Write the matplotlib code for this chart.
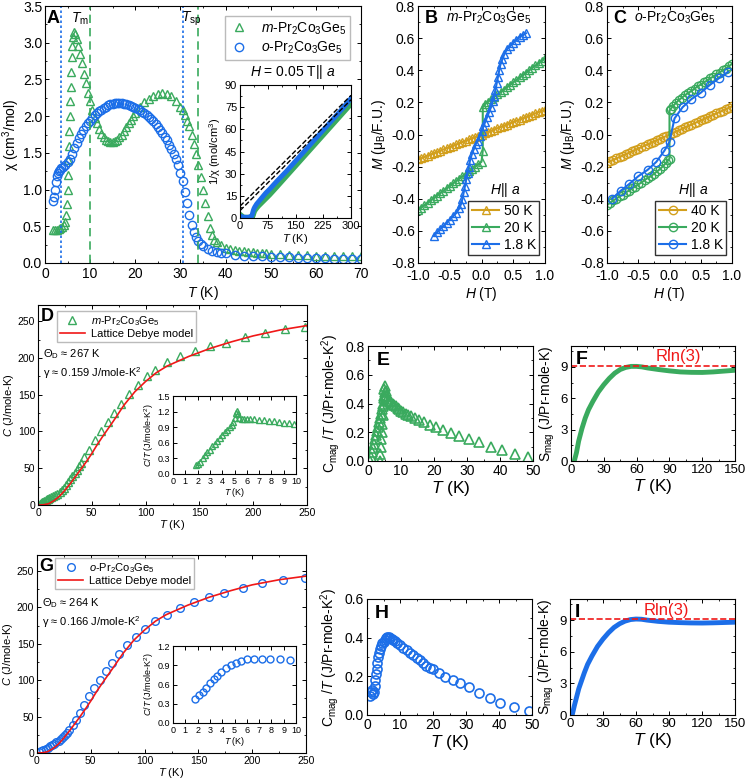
import numpy as np
import matplotlib
matplotlib.use('Agg')
import matplotlib.pyplot as plt
from matplotlib.ticker import AutoMinorLocator, FormatStrFormatter

plt.rcParams['font.family'] = ['Liberation Sans', 'DejaVu Sans']
plt.rcParams['mathtext.fontset'] = 'custom'
plt.rcParams['mathtext.rm'] = 'Liberation Sans'
plt.rcParams['mathtext.it'] = 'Liberation Sans:italic'
plt.rcParams['mathtext.bf'] = 'Liberation Sans:bold'
plt.rcParams['xtick.direction'] = 'in'
plt.rcParams['ytick.direction'] = 'in'
plt.rcParams['xtick.top'] = True
plt.rcParams['ytick.right'] = True
plt.rcParams['axes.linewidth'] = 0.8

GREEN = '#3aaa5e'
BLUE = '#1c6ee8'
GOLD = '#d29f1c'
RED = '#f01818'

M_LABEL = r'$\it{m}$-Pr$_2$Co$_3$Ge$_5$'
O_LABEL = r'$\it{o}$-Pr$_2$Co$_3$Ge$_5$'

# ---- panel A: chi(T) ----
tA_m = [1.8, 2.2, 2.6, 3.0, 3.4, 3.8, 4.2, 4.5, 4.7, 4.85, 5.0, 5.1, 5.2, 5.3, 5.4, 5.5, 5.6, 5.7, 5.8, 5.9,
        6.0, 6.2, 6.4, 6.7, 7.0, 7.4, 7.8, 8.2, 8.6, 9.0, 9.5, 10.0, 10.5, 11.0, 11.5, 12.0, 12.5, 13.0, 13.5,
        14.0, 14.5, 15.0, 15.5, 16.0, 16.5, 17.0, 17.5, 18.0, 18.5, 19.0, 19.5, 20.0, 21.0, 22.0, 23.0, 24.0,
        25.0, 26.0, 27.0, 28.0, 29.0, 30.0, 30.5, 31.0, 31.5, 32.0, 32.5, 33.0, 33.5, 34.0, 34.5, 35.0, 35.5,
        36.0, 36.5, 37.0, 37.5, 38.0, 39, 40, 41, 42, 43, 44, 45, 46, 47, 48, 49, 50, 52, 54, 56, 58, 60, 62,
        64, 66, 68, 70]
chiA_m = [0.45, 0.45, 0.45, 0.46, 0.47, 0.49, 0.52, 0.56, 0.65, 0.80, 1.00, 1.20, 1.40, 1.60, 1.80, 2.00,
          2.20, 2.40, 2.60, 2.80, 2.95, 3.08, 3.15, 3.12, 3.05, 2.95, 2.85, 2.72, 2.58, 2.45, 2.32, 2.20, 2.08,
          1.98, 1.90, 1.82, 1.76, 1.71, 1.68, 1.66, 1.65, 1.65, 1.66, 1.68, 1.71, 1.75, 1.80, 1.85, 1.90, 1.95,
          2.00, 2.04, 2.12, 2.19, 2.24, 2.28, 2.30, 2.31, 2.30, 2.27, 2.21, 2.13, 2.08, 2.02, 1.94, 1.86, 1.75,
          1.62, 1.48, 1.33, 1.17, 1.00, 0.82, 0.64, 0.48, 0.38, 0.32, 0.28, 0.24, 0.21, 0.19, 0.18, 0.17, 0.16,
          0.15, 0.145, 0.14, 0.135, 0.13, 0.125, 0.12, 0.115, 0.11, 0.105, 0.10, 0.098, 0.095, 0.093, 0.091, 0.09]
tA_o = [1.8, 2.0, 2.2, 2.4, 2.6, 2.8, 3.0, 3.3, 3.6, 4.0, 4.5, 5.0, 5.5, 6.0, 6.5, 7.0, 7.5, 8.0, 8.5, 9.0,
        9.5, 10.0, 10.5, 11.0, 11.5, 12.0, 12.5, 13.0, 13.5, 14.0, 14.5, 15.0, 15.5, 16.0, 16.5, 17.0, 17.5,
        18.0, 18.5, 19.0, 19.5, 20.0, 20.5, 21.0, 21.5, 22.0, 22.5, 23.0, 23.5, 24.0, 24.5, 25.0, 25.5, 26.0,
        26.5, 27.0, 27.5, 28.0, 28.5, 29.0, 29.5, 30.0, 30.5, 31.0, 31.5, 32.0, 32.5, 33.0, 33.5, 34.0, 34.5,
        35.0, 36, 37, 38, 39, 40, 42, 44, 46, 48, 50, 52, 54, 56, 58, 60, 62, 64, 66, 68, 70]
chiA_o = [0.84, 0.90, 1.00, 1.10, 1.18, 1.22, 1.25, 1.27, 1.29, 1.31, 1.34, 1.37, 1.42, 1.49, 1.56, 1.63,
          1.70, 1.76, 1.81, 1.86, 1.90, 1.94, 1.98, 2.01, 2.04, 2.07, 2.09, 2.11, 2.13, 2.15, 2.16, 2.17, 2.18,
          2.18, 2.18, 2.18, 2.17, 2.16, 2.15, 2.14, 2.13, 2.11, 2.10, 2.08, 2.06, 2.04, 2.01, 1.99, 1.96, 1.93,
          1.89, 1.85, 1.81, 1.77, 1.72, 1.67, 1.61, 1.55, 1.48, 1.41, 1.33, 1.23, 1.11, 0.97, 0.82, 0.66, 0.52,
          0.42, 0.35, 0.30, 0.26, 0.23, 0.19, 0.17, 0.15, 0.14, 0.13, 0.115, 0.10, 0.095, 0.09, 0.085, 0.08,
          0.075, 0.07, 0.068, 0.065, 0.062, 0.06, 0.058, 0.056, 0.055]
t_marks_o = [3.5, 30.6]
t_marks_m = [10.0, 34.0]

# inset of A: 1/chi
tAi = [2, 10, 20, 30, 32, 34, 36, 38, 40, 45, 50, 60, 70, 80, 100, 125, 150, 175, 200, 225, 250, 275, 300]
invA_m = [2.2, 0.6, 0.5, 0.6, 0.7, 0.9, 1.8, 3.5, 4.8, 6.5, 8.0, 10.5, 13.0, 15.5, 21.0, 28.0, 35.0,
          42.0, 49.0, 56.0, 63.0, 70.0, 77.0]
invA_o = [1.2, 0.5, 0.5, 0.8, 1.5, 3.3, 5.2, 6.5, 7.5, 9.5, 11.0, 14.0, 17.0, 19.5, 25.0, 31.5, 38.5,
          45.5, 52.5, 59.5, 66.5, 73.5, 81.0]
fitA_t = [0, 300]
fitA_1 = [5.0, 80.0]
fitA_2 = [8.0, 83.0]

# ---- panels B, C: M(H) ----
h_grid = [-1.0, -0.95, -0.9, -0.85, -0.8, -0.75, -0.7, -0.65, -0.6, -0.55, -0.5, -0.45, -0.4, -0.35, -0.3,
          -0.25, -0.2, -0.15, -0.1, -0.05, 0.0, 0.05, 0.1, 0.15, 0.2, 0.25, 0.3, 0.35, 0.4, 0.45, 0.5, 0.55,
          0.6, 0.65, 0.7, 0.75, 0.8, 0.85, 0.9, 0.95, 1.0]
mB_50 = [-0.155, -0.147, -0.14, -0.132, -0.124, -0.116, -0.109, -0.101, -0.093, -0.085, -0.078, -0.07,
         -0.062, -0.054, -0.047, -0.039, -0.031, -0.023, -0.016, -0.008, 0.0, 0.008, 0.016, 0.023, 0.031,
         0.039, 0.047, 0.054, 0.062, 0.07, 0.078, 0.085, 0.093, 0.101, 0.109, 0.116, 0.124, 0.132, 0.14,
         0.147, 0.155]
hB_20 = [-1.0, -0.95, -0.9, -0.85, -0.8, -0.75, -0.7, -0.65, -0.6, -0.55, -0.5, -0.45, -0.4, -0.35, -0.3,
         -0.25, -0.2, -0.15, -0.1, -0.05, 0.0, 0.02, 0.02, 0.05, 0.1, 0.15, 0.2, 0.25, 0.3, 0.35, 0.4, 0.45,
         0.5, 0.55, 0.6, 0.65, 0.7, 0.75, 0.8, 0.85, 0.9, 0.95, 1.0]
mB_20 = [-0.47, -0.455, -0.44, -0.425, -0.41, -0.395, -0.38, -0.365, -0.35, -0.335, -0.32, -0.305, -0.29,
         -0.275, -0.26, -0.245, -0.23, -0.215, -0.2, -0.185, -0.17, -0.1, 0.17, 0.19, 0.205, 0.22, 0.235,
         0.25, 0.265, 0.28, 0.295, 0.31, 0.325, 0.34, 0.355, 0.37, 0.385, 0.4, 0.415, 0.43, 0.445, 0.46, 0.475]
hB_18 = [-0.75, -0.7, -0.65, -0.6, -0.55, -0.5, -0.45, -0.4, -0.35, -0.32, -0.3, -0.28, -0.26, -0.24, -0.22,
         -0.2, -0.18, -0.15, -0.12, -0.09, -0.06, -0.03, 0.0, 0.03, 0.06, 0.09, 0.12, 0.15, 0.18, 0.2, 0.22,
         0.24, 0.26, 0.28, 0.3, 0.33, 0.36, 0.4, 0.45, 0.5, 0.55, 0.6, 0.65, 0.7]
mB_18 = [-0.63, -0.61, -0.59, -0.57, -0.55, -0.53, -0.51, -0.49, -0.46, -0.43, -0.4, -0.36, -0.32, -0.28,
         -0.24, -0.2, -0.16, -0.12, -0.09, -0.06, -0.04, -0.01, 0.02, 0.05, 0.08, 0.11, 0.14, 0.17, 0.21,
         0.24, 0.28, 0.32, 0.36, 0.4, 0.44, 0.47, 0.5, 0.53, 0.55, 0.57, 0.59, 0.61, 0.62, 0.63]
mC_40 = [-0.175, -0.166, -0.158, -0.149, -0.14, -0.131, -0.123, -0.114, -0.105, -0.096, -0.088, -0.079,
         -0.07, -0.061, -0.053, -0.044, -0.035, -0.026, -0.018, -0.009, 0.0, 0.009, 0.018, 0.026, 0.035,
         0.044, 0.053, 0.061, 0.07, 0.079, 0.088, 0.096, 0.105, 0.114, 0.123, 0.131, 0.14, 0.149, 0.158,
         0.166, 0.175]
hC_20 = [-1.0, -0.95, -0.9, -0.85, -0.8, -0.75, -0.7, -0.65, -0.6, -0.55, -0.5, -0.45, -0.4, -0.35, -0.3,
         -0.25, -0.2, -0.15, -0.1, -0.05, -0.02, 0.0, 0.0, 0.02, 0.05, 0.1, 0.15, 0.2, 0.25, 0.3, 0.35, 0.4,
         0.45, 0.5, 0.55, 0.6, 0.65, 0.7, 0.75, 0.8, 0.85, 0.9, 0.95, 1.0]
mC_20 = [-0.44, -0.425, -0.41, -0.4, -0.385, -0.375, -0.36, -0.35, -0.335, -0.325, -0.31, -0.3, -0.285,
         -0.27, -0.26, -0.245, -0.23, -0.215, -0.195, -0.175, -0.16, -0.15, 0.15, 0.16, 0.175, 0.195, 0.215,
         0.23, 0.245, 0.26, 0.27, 0.285, 0.3, 0.31, 0.325, 0.335, 0.35, 0.36, 0.375, 0.385, 0.4, 0.41, 0.425,
         0.44]
hC_18 = [-0.92, -0.78, -0.65, -0.5, -0.35, -0.21, -0.08, 0.0, 0.08, 0.21, 0.35, 0.5, 0.65, 0.79, 0.94]
mC_18 = [-0.40, -0.35, -0.31, -0.26, -0.22, -0.17, -0.10, -0.045, 0.10, 0.17, 0.22, 0.26, 0.31, 0.35, 0.39]

# ---- panel D: C(T), m-phase ----
tD = [2, 3, 4, 5, 6, 7, 8, 9, 10, 12, 14, 16, 18, 20, 22, 24, 26, 28, 30, 32, 34, 36, 38, 40, 43, 47, 52.7,
      58.5, 65, 70.5, 77, 85, 93, 101, 108.5, 120, 132, 145.5, 160, 175, 192, 211, 230, 248]
cD = [1.5, 2.5, 3.5, 4.5, 5.5, 6.5, 7.5, 8.3, 9, 10.5, 12, 13.5, 15.5, 18, 20.5, 23.5, 27, 31, 35, 39, 43.5,
      48, 52.5, 57, 65, 75, 89, 101, 113, 125, 137, 151, 163, 175, 184, 194, 202, 209, 216, 221, 229, 234,
      240, 242]
tDebye = [0, 5, 10, 15, 20, 25, 30, 35, 40, 45, 50, 55, 60, 70, 80, 90, 100, 110, 120, 140, 160, 180, 200,
          225, 250]
cDebyeD = [0, 0.3, 1.8, 6, 12, 20, 29, 39, 49, 59, 70, 82, 93, 114, 136, 154, 168, 180, 189, 202, 213, 222,
           230, 238, 244]
cDebyeG = [0, 0.3, 1.9, 6.2, 12.4, 20.6, 30, 40, 50, 60.5, 71.5, 83.5, 94.5, 115.5, 137, 155, 169, 181,
           190, 203, 214, 223, 231, 238, 243]
tDi = [1.9, 2.0, 2.2, 2.4, 2.6, 2.8, 3.0, 3.2, 3.4, 3.6, 3.8, 4.0, 4.2, 4.4, 4.6, 4.8, 4.9, 5.0, 5.1, 5.2,
       5.3, 5.4, 5.6, 5.8, 6.0, 6.3, 6.6, 7.0, 7.4, 7.8, 8.2, 8.6, 9.0, 9.4, 9.8]
cTDi = [0.17, 0.19, 0.24, 0.30, 0.36, 0.42, 0.47, 0.53, 0.58, 0.64, 0.70, 0.75, 0.80, 0.85, 0.90, 0.95,
        1.00, 1.08, 1.17, 1.22, 1.15, 1.08, 1.06, 1.06, 1.05, 1.05, 1.05, 1.04, 1.03, 1.02, 1.01, 1.0, 0.99,
        0.98, 0.97]

# ---- panel E: Cmag/T, m-phase ----
tE = [0.6, 0.9, 1.2, 1.5, 1.8, 2.1, 2.4, 2.7, 3.0, 3.3, 3.6, 3.9, 4.2, 4.5, 4.8, 5.0, 5.2, 5.4, 5.6, 5.9,
      6.2, 6.6, 7.0, 7.5, 8.0, 8.5, 9.0, 9.5, 10, 10.7, 11.4, 12.2, 13.1, 14.3, 15.5, 17, 18.7, 20.6, 22.7,
      25, 27.6, 30.5, 33.7, 37.2, 40.6, 44.4, 48.5]
cE = [0.0, 0.03, 0.06, 0.09, 0.12, 0.15, 0.18, 0.21, 0.24, 0.27, 0.30, 0.33, 0.36, 0.40, 0.45, 0.48, 0.52,
      0.49, 0.45, 0.43, 0.42, 0.415, 0.41, 0.40, 0.39, 0.38, 0.37, 0.36, 0.35, 0.34, 0.33, 0.32, 0.31, 0.30,
      0.285, 0.27, 0.25, 0.235, 0.215, 0.195, 0.175, 0.155, 0.135, 0.10, 0.075, 0.05, 0.03]
tE2 = [3.6, 3.75, 3.9, 4.05, 4.2, 4.35, 4.5, 4.65, 4.8, 4.95]
cE2 = [0.0, 0.05, 0.1, 0.15, 0.2, 0.26, 0.32, 0.38, 0.44, 0.5]

# ---- panels F, I: Smag ----
tF = [3, 5, 7, 10, 13, 16, 20, 25, 30, 35, 40, 45, 50, 55, 60, 65, 70, 80, 90, 100, 110, 120, 130, 140, 150]
sF = [0, 0.8, 1.9, 3.1, 4.1, 4.9, 5.7, 6.6, 7.3, 7.9, 8.4, 8.75, 8.95, 9.05, 9.05, 9.0, 8.9, 8.75, 8.62,
      8.52, 8.48, 8.47, 8.52, 8.6, 8.68]
tI = [2, 4, 6, 8, 10, 13, 16, 20, 25, 30, 35, 40, 45, 50, 55, 60, 65, 70, 80, 90, 100, 110, 120, 130, 140, 150]
sI = [0, 0.9, 1.7, 2.5, 3.1, 4.0, 4.8, 5.6, 6.5, 7.2, 7.8, 8.3, 8.65, 8.9, 9.05, 9.1, 9.08, 9.0, 8.88, 8.8,
      8.76, 8.73, 8.72, 8.74, 8.77, 8.8]
R_LN3 = 9.13

# ---- panel G: C(T), o-phase ----
tG = [2, 4, 6, 8, 10, 12, 14, 16, 18, 20, 22, 24, 26, 28, 30, 33, 36, 40, 44, 48.5, 53, 58.7, 64, 70, 76.5,
      83.6, 91.6, 100, 110, 121, 132.6, 146, 160, 174, 191, 209, 229, 248.7]
cG = [1.5, 3, 4.5, 6, 7.5, 9, 10.5, 12.5, 14.5, 16.5, 19, 22, 25, 28, 32, 38, 45, 55, 66, 78, 89, 100.5,
      112, 124, 136, 148, 160, 171, 181, 190, 199, 207, 214, 220, 226, 233, 237, 240]
tGi = [1.8, 2.1, 2.4, 2.7, 3.0, 3.3, 3.6, 3.9, 4.3, 4.7, 5.1, 5.5, 6.0, 6.6, 7.2, 7.9, 8.7, 9.5]
cTGi = [0.38, 0.43, 0.49, 0.55, 0.62, 0.68, 0.74, 0.80, 0.86, 0.91, 0.94, 0.97, 0.99, 1.0, 1.0, 1.0, 0.99,
        0.98]

# ---- panel H: Cmag/T, o-phase ----
tH = [1.0, 1.3, 1.6, 1.9, 2.1, 2.3, 2.5, 2.7, 2.9, 3.1, 3.4, 3.7, 4.0, 4.3, 4.6, 5.0, 5.4, 5.8, 6.2, 6.6,
      7.0, 7.5, 8.0, 8.6, 9.2, 10.0, 11.0, 12.1, 13.0, 14.0, 15.0, 16.0, 17.0, 18.0, 19.0, 20.0, 21.7, 23.7,
      26.0, 28.3, 30.8, 33.8, 37.2, 40.4, 44.4, 49.0]
cH = [0.10, 0.12, 0.13, 0.11, 0.12, 0.15, 0.18, 0.21, 0.24, 0.27, 0.30, 0.32, 0.34, 0.355, 0.37, 0.38,
      0.39, 0.40, 0.405, 0.405, 0.40, 0.395, 0.39, 0.385, 0.375, 0.36, 0.345, 0.335, 0.322, 0.31, 0.297,
      0.285, 0.27, 0.255, 0.245, 0.236, 0.215, 0.198, 0.18, 0.164, 0.147, 0.115, 0.09, 0.064, 0.043, 0.022]

W, H = 747, 780
fig = plt.figure(figsize=(W / 100, H / 100), dpi=100)


def px_axes(l, t, r, b):
    return fig.add_axes([l / W, 1 - b / H, (r - l) / W, (b - t) / H])


def style(ax, fs, minor=True):
    ax.tick_params(which='major', length=3, width=0.7, labelsize=fs, pad=2)
    ax.tick_params(which='minor', length=1.6, width=0.6)
    if minor:
        ax.xaxis.set_minor_locator(AutoMinorLocator(2))
        ax.yaxis.set_minor_locator(AutoMinorLocator(2))


def letter(ax, s, x=0.02, y=0.97, fs=13):
    ax.text(x, y, s, transform=ax.transAxes, fontsize=fs, fontweight='bold', va='top', ha='left')


# ---------------- A ----------------
axA = px_axes(45, 6, 361, 263)
axA.plot(tA_m, chiA_m, '^', mfc='none', mec=GREEN, ms=6, mew=1.0, label=M_LABEL)
axA.plot(tA_o, chiA_o, 'o', mfc='none', mec=BLUE, ms=6, mew=1.0, label=O_LABEL)
for t in t_marks_o:
    axA.axvline(t, color=BLUE, ls=(0, (1.5, 1.5)), lw=1.2)
for t in t_marks_m:
    axA.axvline(t, color=GREEN, ls=(0, (5, 3)), lw=1.2)
axA.set_xlim(0, 70)
axA.set_ylim(0, 3.5)
axA.set_xticks(range(0, 71, 10))
axA.set_yticks(np.arange(0, 3.51, 0.5))
axA.yaxis.set_major_formatter(FormatStrFormatter('%.1f'))
style(axA, 10)
axA.tick_params(axis='x', pad=3)
axA.set_xlabel(r'$\it{T}$ (K)', fontsize=10, labelpad=2)
axA.set_ylabel('χ (cm$^3$/mol)', fontsize=10, labelpad=0.5)
letter(axA, 'A', x=0.005, y=0.985)
axA.text(5.8, 3.33, r'$\it{T}$$_{\rm m}$', fontsize=10, va='center')
axA.text(30.2, 3.33, r'$\it{T}$$_{\rm sp}$', fontsize=10, va='center')
axA.legend(loc='upper right', bbox_to_anchor=(0.966, 0.961), fontsize=10, frameon=True, fancybox=False,
           edgecolor='#aaaaaa', handletextpad=0.8, borderpad=0.3, labelspacing=0.2, handlelength=1.5,
           borderaxespad=0)
fig.text(293 / W, 1 - 72 / H, r'$\it{H}$ = 0.05 T|| $\it{a}$', fontsize=10, ha='center', va='center')

axAi = px_axes(240, 85, 351, 218)
axAi.plot(tAi, invA_m, '-', color=GREEN, lw=3.5)
axAi.plot(tAi, invA_o, '-', color=BLUE, lw=3.5)
axAi.plot(fitA_t, fitA_1, '--', color='black', lw=1.0)
axAi.plot(fitA_t, fitA_2, '--', color='black', lw=1.0)
axAi.set_xlim(0, 300)
axAi.set_ylim(0, 90)
axAi.set_xticks([0, 75, 150, 225, 300])
axAi.set_yticks(range(0, 91, 15))
style(axAi, 8)
axAi.set_xlabel(r'$\it{T}$ (K)', fontsize=8, labelpad=1)
axAi.set_ylabel('1/χ (mol/cm$^3$)', fontsize=8, labelpad=1)

# ---------------- B, C ----------------
def mh_panel(box, series, lab, title, mk):
    ax = px_axes(*box)
    for hh, mm, col, name in series:
        ax.plot(hh, mm, '-', marker=mk, color=col, mfc='none', mec=col, ms=6, mew=1.0, lw=1.5, label=name)
    ax.set_xlim(-1, 1)
    ax.set_ylim(-0.8, 0.8)
    ax.set_xticks([-1.0, -0.5, 0.0, 0.5, 1.0])
    ax.set_yticks(np.arange(-0.8, 0.81, 0.2))
    ax.xaxis.set_major_formatter(FormatStrFormatter('%.1f'))
    ax.yaxis.set_major_formatter(FormatStrFormatter('%.1f'))
    style(ax, 10)
    ax.tick_params(axis='x', pad=4)
    ax.set_xlabel(r'$\it{H}$ (T)', fontsize=10, labelpad=2)
    ax.set_ylabel(r'$\it{M}$ (μ$_{\rm B}$/F.U.)', fontsize=10, labelpad=2)
    letter(ax, lab, x=0.05, y=0.985)
    ax.text(0.22, 0.955, title, transform=ax.transAxes, fontsize=10, va='center', ha='left')
    ax.text(0.69, 0.285, r'$\it{H}$|| $\it{a}$', transform=ax.transAxes, fontsize=10, ha='center', va='center')
    ax.legend(loc='lower right', bbox_to_anchor=(0.955, 0.03), fontsize=10, frameon=True, fancybox=False,
              edgecolor='black', handlelength=2.0, handletextpad=0.3, borderpad=0.25, labelspacing=0.2,
              borderaxespad=0)
    return ax


mh_panel((418, 6, 545, 263),
         [(h_grid, mB_50, GOLD, '50 K'), (hB_20, mB_20, GREEN, '20 K'), (hB_18, mB_18, BLUE, '1.8 K')],
         'B', M_LABEL, '^')
mh_panel((607, 6, 732, 263),
         [(h_grid, mC_40, GOLD, '40 K'), (hC_20, mC_20, GREEN, '20 K'), (hC_18, mC_18, BLUE, '1.8 K')],
         'C', O_LABEL, 'o')

# ---------------- D, G ----------------
def c_panel(box, tt, cc, cdeb, col, mk, lab, name, theta, gamma, leg_x, leg_y):
    ax = px_axes(*box)
    ax.plot(tt, cc, mk, mfc='none', mec=col, ms=5.5, mew=1.0, label=name)
    ax.plot(tDebye, cdeb, '-', color=RED, lw=1.2, label='Lattice Debye model')
    ax.set_xlim(0, 250)
    ax.set_ylim(0, 272)
    ax.set_xticks(range(0, 251, 50))
    ax.set_yticks(range(0, 251, 50))
    style(ax, 7.5)
    ax.set_xlabel(r'$\it{T}$ (K)', fontsize=8, labelpad=0.5)
    ax.set_ylabel(r'$\it{C}$ (J/mole-K)', fontsize=8, labelpad=1.5)
    letter(ax, lab, x=0.01, y=0.985, fs=13)
    ax.legend(loc='upper left', bbox_to_anchor=(leg_x, leg_y), fontsize=8, frameon=True, fancybox=False,
              edgecolor='#aaaaaa', handlelength=2.3, handletextpad=0.5, borderpad=0.25, labelspacing=0.15,
              borderaxespad=0)
    ax.text(0.02, 0.755, r'Θ$_{\rm D}$ ≈ ' + theta + ' K', transform=ax.transAxes, fontsize=8, va='center')
    ax.text(0.02, 0.66, 'γ ≈ ' + gamma + ' J/mole-K$^2$', transform=ax.transAxes, fontsize=8, va='center')
    return ax


def ct_inset(box, tt, cc, col, mk, ytop, yt):
    ax = px_axes(*box)
    ax.plot(tt, cc, mk, mfc='none', mec=col, ms=5, mew=1.0)
    ax.set_xlim(0, 10)
    ax.set_ylim(0, ytop)
    ax.set_xticks(range(0, 11))
    ax.set_yticks(yt)
    ax.yaxis.set_major_formatter(FormatStrFormatter('%.1f'))
    style(ax, 6.5, minor=False)
    ax.set_xlabel(r'$\it{T}$ (K)', fontsize=6.5, labelpad=0.5)
    ax.set_ylabel(r'$\it{C/T}$ (J/mole-K$^2$)', fontsize=6.5, labelpad=1)
    return ax


c_panel((38, 305, 307, 505), tD, cD, cDebyeD, GREEN, '^', 'D', M_LABEL, '267', '0.159', 0.07, 0.97)
ct_inset((173, 396, 296, 474), tDi, cTDi, GREEN, '^', 1.5, [0, 0.3, 0.6, 0.9, 1.2, 1.5])
c_panel((37, 555, 306, 753), tG, cG, cDebyeG, BLUE, 'o', 'G', O_LABEL, '264', '0.166', 0.067, 0.985)
ct_inset((173, 646, 296, 723), tGi, cTGi, BLUE, 'o', 1.2, [0, 0.3, 0.6, 0.9, 1.2])

# ---------------- E, H ----------------
def cmag_panel(box, series, col, mk, lab, ytop, yt):
    ax = px_axes(*box)
    for tt, cc in series:
        ax.plot(tt, cc, mk, mfc='none', mec=col, ms=6.5, mew=1.2)
    ax.set_xlim(0, 50)
    ax.set_ylim(0, ytop)
    ax.set_xticks(range(0, 51, 10))
    ax.set_yticks(yt)
    ax.yaxis.set_major_formatter(FormatStrFormatter('%.1f'))
    style(ax, 10)
    ax.set_xlabel(r'$\it{T}$ (K)', fontsize=12.5, labelpad=1)
    ax.set_ylabel(r'C$_{\rm mag}$ /$\it{T}$ (J/Pr-mole-K$^2$)', fontsize=10, labelpad=3)
    letter(ax, lab, x=0.05, y=0.95, fs=14)
    return ax


cmag_panel((368, 346, 533, 461), [(tE, cE), (tE2, cE2)], GREEN, '^', 'E', 0.8, [0, 0.2, 0.4, 0.6, 0.8])
cmag_panel((367, 599, 532, 715), [(tH, cH)], BLUE, 'o', 'H', 0.6, [0, 0.2, 0.4, 0.6])

# ---------------- F, I ----------------
def s_panel(box, tt, ss, col, lab, tx):
    ax = px_axes(*box)
    ax.plot(tt, ss, '-', color=col, lw=3.5)
    ax.axhline(R_LN3, color=RED, ls='--', lw=1.2)
    ax.text(tx, 9.95, 'Rln(3)', color=RED, fontsize=12, ha='center', va='center')
    ax.set_xlim(0, 150)
    ax.set_ylim(0, 11)
    ax.set_xticks(range(0, 151, 30))
    ax.set_yticks([0, 3, 6, 9])
    style(ax, 9.5)
    ax.set_xlabel(r'$\it{T}$ (K)', fontsize=12.5, labelpad=1)
    ax.set_ylabel(r'S$_{\rm mag}$ (J/Pr-mole-K)', fontsize=10, labelpad=3)
    letter(ax, lab, x=0.03, y=0.96, fs=14)
    return ax


s_panel((571, 346, 735, 461), tF, sF, GREEN, 'F', 98)
s_panel((570, 599, 735, 715), tI, sI, BLUE, 'I', 88)

fig.savefig('out.png', dpi=100)
